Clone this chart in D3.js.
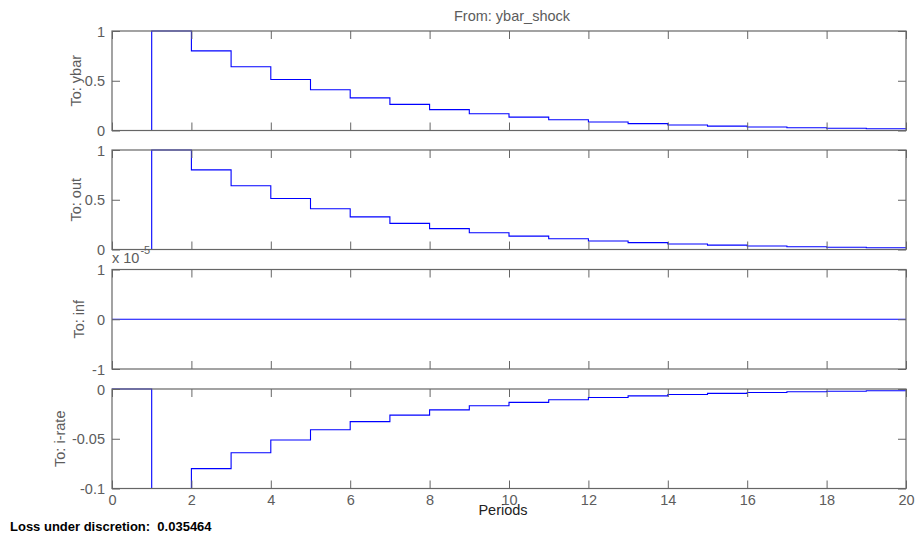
<!DOCTYPE html>
<html>
<head>
<meta charset="utf-8">
<script src="https://cdn.jsdelivr.net/npm/d3@7/dist/d3.min.js"></script>
<style>
  html, body { margin: 0; padding: 0; background: #fff; }
  svg { display: block; font-family: Arial, "Liberation Sans", Helvetica, sans-serif; }
</style>
</head>
<body>
<svg id="chart" width="916" height="539"></svg>
<script>
// Impulse responses to a ybar shock, periods 0..20
const periods = [0, 1, 2, 3, 4, 5, 6, 7, 8, 9, 10, 11, 12, 13, 14, 15, 16, 17, 18, 19, 20];
const ybarResp = [0, 1, 0.8, 0.64, 0.512, 0.4096, 0.3277, 0.2621, 0.2097, 0.1678, 0.1342,
                  0.1074, 0.0859, 0.0687, 0.0550, 0.0440, 0.0352, 0.0281, 0.0225, 0.0180, 0.0144];
const outResp  = [0, 1, 0.8, 0.64, 0.512, 0.4096, 0.3277, 0.2621, 0.2097, 0.1678, 0.1342,
                  0.1074, 0.0859, 0.0687, 0.0550, 0.0440, 0.0352, 0.0281, 0.0225, 0.0180, 0.0144];
const infResp  = [0, 0, 0, 0, 0, 0, 0, 0, 0, 0, 0, 0, 0, 0, 0, 0, 0, 0, 0, 0, 0];
const irateResp = [0, -0.1, -0.08, -0.064, -0.0512, -0.04096, -0.03277, -0.02621, -0.02097, -0.01678, -0.01342,
                   -0.01074, -0.00859, -0.00687, -0.00550, -0.00440, -0.00352, -0.00281, -0.00225, -0.00180, -0.00144];

const panelNames = ["To: ybar", "To: out", "To: inf", "To: i-rate"];
const panelDomains = [[0, 1], [0, 1], [-1, 1], [-0.1, 0]];
const panelTicks = [[0, 0.5, 1], [0, 0.5, 1], [-1, 0, 1], [-0.1, -0.05, 0]];
const panelTickLabels = [["0", "0.5", "1"], ["0", "0.5", "1"], ["-1", "0", "1"], ["-0.1", "-0.05", "0"]];
const panelSeries = [ybarResp, outResp, infResp, irateResp];
const xTicks = [0, 2, 4, 6, 8, 10, 12, 14, 16, 18, 20];

const titleText = "From: ybar_shock";
const xLabelText = "Periods";
const lossText = "Loss under discretion:  0.035464";

// Layout
const left = 112, right = 906;
const panelTops = [31, 150, 269.5, 389];
const panelH = 99.5;
const yLabelX = [81, 81, 84, 65];
const tickLen = 8;
const fontSize = 14.5;
const axisColor = "#666666";
const textColor = "#5c5c5c";

const svg = d3.select("#chart");

const x = d3.scaleLinear().domain([0, 20]).range([left, right]);

// Title
svg.append("text")
  .attr("x", 512).attr("y", 20.5)
  .attr("text-anchor", "middle")
  .attr("font-size", fontSize).attr("fill", textColor)
  .text(titleText);

panelNames.forEach((name, i) => {
  const top = panelTops[i], bottom = top + panelH;
  const y = d3.scaleLinear().domain(panelDomains[i]).range([bottom, top]);
  const g = svg.append("g");

  // Response as a staircase
  const line = d3.line()
    .x((d, k) => x(periods[k]))
    .y(d => y(d))
    .curve(d3.curveStepAfter);
  g.append("path")
    .datum(panelSeries[i])
    .attr("d", line)
    .attr("fill", "none")
    .attr("stroke", "#0000ff")
    .attr("stroke-width", 1.1);

  // Box
  g.append("rect")
    .attr("x", left).attr("y", top)
    .attr("width", right - left).attr("height", panelH)
    .attr("fill", "none").attr("stroke", axisColor).attr("stroke-width", 1.2);

  // x ticks (bottom and top, inward)
  const showX = i === panelNames.length - 1;
  const xAxisB = d3.axisBottom(x).tickValues(xTicks)
    .tickSizeInner(-tickLen).tickSizeOuter(0)
    .tickFormat(showX ? d3.format("d") : () => "");
  const gxb = g.append("g").attr("transform", `translate(0,${bottom})`).call(xAxisB);
  const xAxisT = d3.axisTop(x).tickValues(xTicks)
    .tickSizeInner(-tickLen).tickSizeOuter(0).tickFormat(() => "");
  const gxt = g.append("g").attr("transform", `translate(0,${top})`).call(xAxisT);

  // y ticks (left and right, inward)
  const labels = panelTickLabels[i];
  const yAxisL = d3.axisLeft(y).tickValues(panelTicks[i])
    .tickSizeInner(-tickLen).tickSizeOuter(0)
    .tickFormat((d, k) => labels[k]);
  const gyl = g.append("g").attr("transform", `translate(${left},0)`).call(yAxisL);
  const yAxisR = d3.axisRight(y).tickValues(panelTicks[i])
    .tickSizeInner(-tickLen).tickSizeOuter(0).tickFormat(() => "");
  const gyr = g.append("g").attr("transform", `translate(${right},0)`).call(yAxisR);

  [gxb, gxt, gyl, gyr].forEach(a => {
    a.select(".domain").remove();
    a.selectAll(".tick line").attr("stroke", axisColor).attr("stroke-width", 1);
    a.selectAll(".tick text").attr("fill", textColor).attr("font-size", fontSize)
      .attr("font-family", "Arial, 'Liberation Sans', sans-serif");
  });
  gyl.selectAll(".tick text").attr("x", -7).attr("dy", "0.36em");
  gxb.selectAll(".tick text").attr("y", 6).attr("dy", "0.71em");

  // y label
  g.append("text")
    .attr("transform", `translate(${yLabelX[i]},${(top + bottom) / 2}) rotate(-90)`)
    .attr("text-anchor", "middle")
    .attr("font-size", fontSize).attr("fill", textColor)
    .text(name);

  // scale multiplier for the inflation panel
  if (i === 2) {
    const m = g.append("text")
      .attr("x", left).attr("y", top - 7)
      .attr("font-size", fontSize).attr("fill", textColor);
    m.append("tspan").text("x 10");
    m.append("tspan").attr("dy", -9).attr("dx", 1).attr("font-size", 11).text("-5");
  }
});

// x label
svg.append("text")
  .attr("x", 503).attr("y", 515)
  .attr("text-anchor", "middle")
  .attr("font-size", fontSize).attr("fill", "#222")
  .text(xLabelText);

// Loss value
svg.append("text")
  .attr("x", 10).attr("y", 531)
  .attr("font-size", 13).attr("font-weight", "bold").attr("fill", "#000")
  .style("white-space", "pre")
  .text(lossText);
</script>
</body>
</html>
